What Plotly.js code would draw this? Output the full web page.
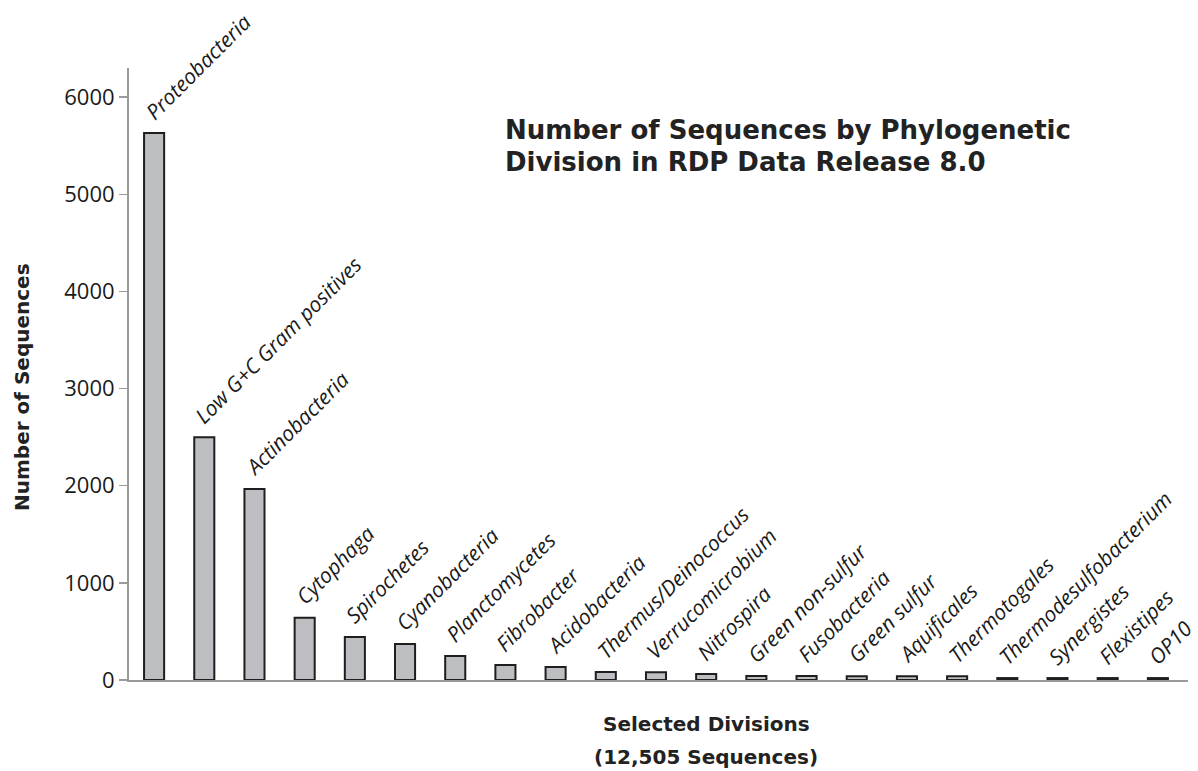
<!DOCTYPE html>
<html>
<head>
<meta charset="utf-8">
<script src="https://cdn.plot.ly/plotly-3.0.1.min.js"></script>
<style>
html,body{margin:0;padding:0;background:#fff;}
#chart{width:1198px;height:771px;}
</style>
</head>
<body>
<div id="chart"></div>
<script>
const divisions = ["Proteobacteria","Low G+C Gram positives","Actinobacteria","Cytophaga","Spirochetes","Cyanobacteria","Planctomycetes","Fibrobacter","Acidobacteria","Thermus/Deinococcus","Verrucomicrobium","Nitrospira","Green non-sulfur","Fusobacteria","Green sulfur","Aquificales","Thermotogales","Thermodesulfobacterium","Synergistes","Flexistipes","OP10"];
const sequences = [5630,2500,1965,640,443,370,247,154,134,82,80,62,40,40,38,38,38,20,20,20,20];
const yTicks = [0,1000,2000,3000,4000,5000,6000];
const titleLines = ["Number of Sequences by Phylogenetic","Division in RDP Data Release 8.0"];
const xTitleLines = ["Selected Divisions","(12,505 Sequences)"];
const yTitle = "Number of Sequences";

const xs = divisions.map((d,i)=>i);
const trace = {
  type:"bar",
  x: xs,
  y: sequences,
  width: 0.4,
  marker:{color:"#bdbec2", line:{color:"#1e1e1e", width:2}},
  hoverinfo:"skip"
};

const labelAnnotations = divisions.map((d,i)=>({
  x: i, y: sequences[i], xref:"x", yref:"y",
  text: d, showarrow:false, textangle:-45,
  xanchor:"left", yanchor:"bottom",
  xshift:-18, yshift:5,
  font:{family:"Open Sans, sans-serif", size:21, color:"#1a1a1a", style:"italic"}
}));

const PH = 612, PW = 1059;
const titleFont = {family:"DejaVu Sans, sans-serif", size:26, weight:"bold", color:"#222"};
const axTitleFont = {family:"DejaVu Sans, sans-serif", size:20, weight:"bold", color:"#222"};
const layout = {
  width:1198, height:771,
  margin:{l:129, r:10, t:68, b:91},
  paper_bgcolor:"#fff", plot_bgcolor:"#fff",
  showlegend:false,
  font:{family:"Open Sans, sans-serif", color:"#1a1a1a"},
  xaxis:{
    range:[-0.5,20.6], showticklabels:false, ticks:"",
    showgrid:false, zeroline:false, showline:true, linecolor:"#9a9a9a", linewidth:2
  },
  yaxis:{
    range:[0,6300], tickvals:yTicks, ticktext:yTicks.map(String),
    ticks:"outside", ticklen:8, tickcolor:"#9a9a9a", tickwidth:1.5,
    showgrid:false, zeroline:false, showline:true, linecolor:"#9a9a9a", linewidth:2,
    tickfont:{size:22, family:"Open Sans, sans-serif", color:"#1a1a1a"}
  },
  annotations: labelAnnotations.concat([
    {xref:"paper", yref:"paper", x:(503-129)/PW, y:(680-130)/PH, xanchor:"left", yanchor:"middle",
     text:titleLines[0], showarrow:false, font:titleFont},
    {xref:"paper", yref:"paper", x:(503-129)/PW, y:(680-162)/PH, xanchor:"left", yanchor:"middle",
     text:titleLines[1], showarrow:false, font:titleFont},
    {xref:"paper", yref:"paper", x:(706-129)/PW, y:-(724-680)/PH, xanchor:"center", yanchor:"middle",
     text:xTitleLines[0], showarrow:false, font:axTitleFont},
    {xref:"paper", yref:"paper", x:(706-129)/PW, y:-(757-680)/PH, xanchor:"center", yanchor:"middle",
     text:xTitleLines[1], showarrow:false, font:axTitleFont},
    {xref:"paper", yref:"paper", x:-(129-22)/PW, y:(680-387)/PH, xanchor:"center", yanchor:"middle",
     text:yTitle, showarrow:false, textangle:-90, font:axTitleFont}
  ])
};

Plotly.newPlot("chart",[trace],layout,{displayModeBar:false, staticPlot:true});
</script>
</body>
</html>
